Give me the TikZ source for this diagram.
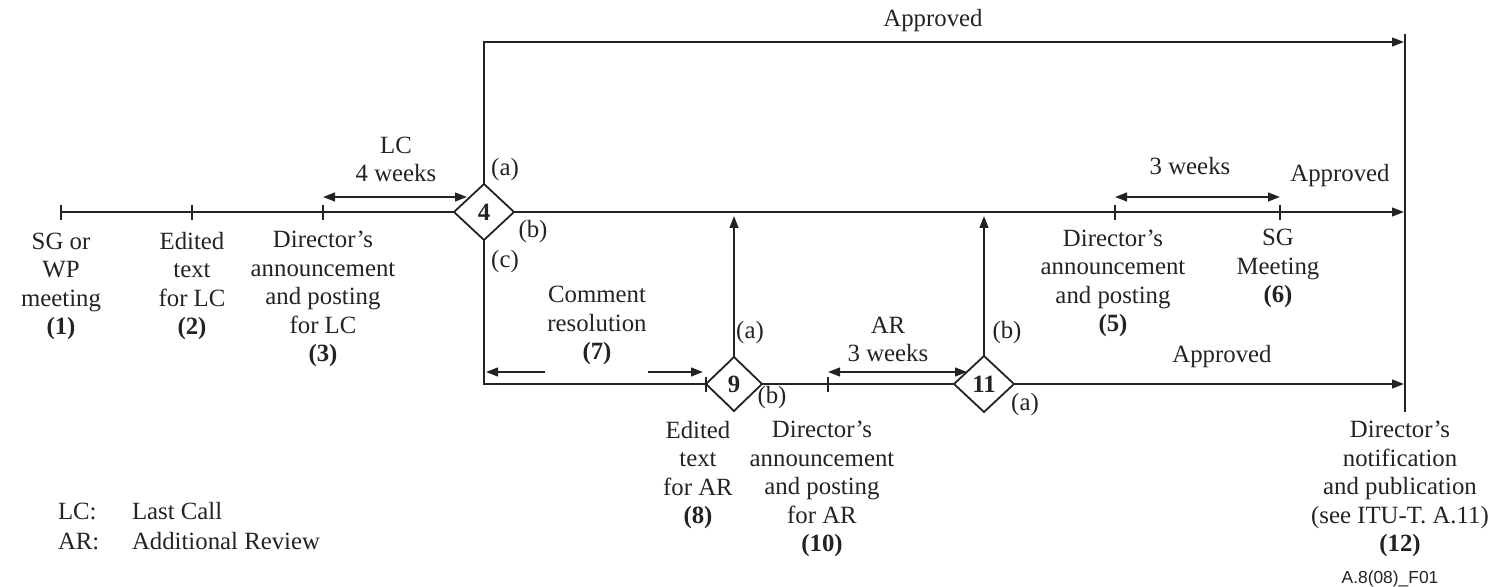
\documentclass[tikz,border=0pt]{standalone}
\usepackage{fontspec}
\setmainfont{Liberation Serif}
\newfontfamily\figsans{Liberation Sans}
\usetikzlibrary{arrows.meta,shapes.geometric}
\definecolor{ink}{RGB}{35,35,35}
\begin{document}
\begin{tikzpicture}[x=0.5pt,y=-0.5pt,
  line width=0.9pt, draw=ink, text=ink,
  every node/.style={font=\fontsize{12.4}{14.3}\selectfont, inner sep=0pt, outer sep=0pt},
  % multi-line labels are placed by the baseline of their last line
  lbl/.style={align=center, anchor=base},
  tag/.style={anchor=center},
  decision/.style={diamond, draw, line width=0.9pt, minimum width=30pt, minimum height=28pt,
    font=\fontsize{12.4}{14.3}\selectfont\bfseries},
  arr/.style={-{Triangle[length=6pt,width=4.4pt]}},
  darr/.style={{Triangle[length=6pt,width=4.4pt]}-{Triangle[length=6pt,width=4.4pt]}},
]
\useasboundingbox (0,0) rectangle (1511,587);

% decision points
\node[decision] (d4) at (484,212) {4};
\node[decision, minimum width=28pt, minimum height=27pt] (d9) at (734,384) {9};
\node[decision] (d11) at (984,384) {11};

% milestones on the main time line
\coordinate (t1) at (61,212);
\coordinate (t2) at (192,212);
\coordinate (t3) at (323,212);
\coordinate (t5) at (1115,212);
\coordinate (t6) at (1280,212);
\coordinate (t10) at (828,384);
\coordinate (mainEnd) at (1404,212);
\coordinate (topCorner) at (484,42);
\coordinate (topEnd) at (1404,42);
\coordinate (lowEnd) at (1404,384);
\coordinate (pubTop) at (1405,34);
\coordinate (pubBot) at (1405,412);
\coordinate (up9) at (734,216);
\coordinate (up11) at (984,216);

% main line
\draw (t1) -- (d4.west);
\draw[arr] (d4.east) -- (mainEnd);
\foreach \t in {t1,t2,t3,t5,t6} \draw (\t) ++(0,-7) -- ++(0,15);

% approval at the first decision
\draw[arr] (d4.north) -- (topCorner) -- (topEnd);

% comment resolution branch
\draw (d4.south) |- (d9.west);
\draw (d9.west) ++(0,-7) -- ++(0,15);
\draw (d9.east) -- (d11.west);
\draw (t10) ++(0,-7) -- ++(0,15);
\draw[arr] (d11.east) -- (lowEnd);
\draw[arr] (d9.north) -- (up9);
\draw[arr] (d11.north) -- (up11);

% publication
\draw (pubTop) -- (pubBot);

% durations
\coordinate (lcA) at (323,197);
\coordinate (lcB) at (467,197);
\draw[darr] (lcA) -- (lcB);
\coordinate (swA) at (1115,197);
\coordinate (swB) at (1280,197);
\draw[darr] (swA) -- (swB);
\coordinate (arA) at (828,372);
\coordinate (arB) at (967,372);
\draw[darr] (arA) -- (arB);
\coordinate (crLtail) at (545,372);
\coordinate (crLtip) at (486,372);
\coordinate (crRtail) at (648,372);
\coordinate (crRtip) at (703,372);
\draw[arr] (crLtail) -- (crLtip);
\draw[arr] (crRtail) -- (crRtip);

% texts
\node[lbl] (apTop) at (933,27) {Approved};
\node[lbl] (apMid) at (1340,182) {Approved};
\node[lbl] (apLow) at (1222,363) {Approved};
\node[lbl] (lcDur) at (396,182) {LC\\4 weeks};
\node[lbl] (swDur) at (1190,175) {3 weeks};
\node[lbl] (arDur) at (888,362) {AR\\3 weeks};

\node[tag] (d4a) at (505,170) {(a)};
\node[tag] (d4b) at (533,232) {(b)};
\node[tag] (d4c) at (505,262) {(c)};
\node[tag] (d9a) at (750,333) {(a)};
\node[tag] (d9b) at (772,398) {(b)};
\node[tag] (d11b) at (1007,333) {(b)};
\node[tag] (d11a) at (1025,405) {(a)};

\node[lbl] (s1) at (61,335) {SG or\\WP\\meeting\\\textbf{(1)}};
\node[lbl] (s2) at (192,335) {Edited\\text\\for LC\\\textbf{(2)}};
\node[lbl] (s3) at (323,362) {Director's\\announcement\\and posting\\for LC\\\textbf{(3)}};
\node[lbl] (s5) at (1113,332) {Director's\\announcement\\and posting\\\textbf{(5)}};
\node[lbl] (s6) at (1278,303) {SG\\Meeting\\\textbf{(6)}};
\node[lbl] (s7) at (597,360) {Comment\\resolution\\\textbf{(7)}};
\node[lbl] (s8) at (698,524) {Edited\\text\\for AR\\\textbf{(8)}};
\node[lbl] (s10) at (822,552) {Director's\\announcement\\and posting\\for AR\\\textbf{(10)}};
\node[lbl] (s12) at (1400,552) {Director's\\notification\\and publication\\(see ITU-T. A.11)\\\textbf{(12)}};

% abbreviations
\node[anchor=base west] (lcKey) at (58,520) {LC:};
\node[anchor=base west] (lcVal) at (132,520) {Last Call};
\node[anchor=base west] (arKey) at (58,550) {AR:};
\node[anchor=base west] (arVal) at (132,550) {Additional Review};

\node[anchor=base, font=\figsans\fontsize{8.7}{10}\selectfont] (figId) at (1390,583) {A.8(08)\_F01};
\end{tikzpicture}
\end{document}
